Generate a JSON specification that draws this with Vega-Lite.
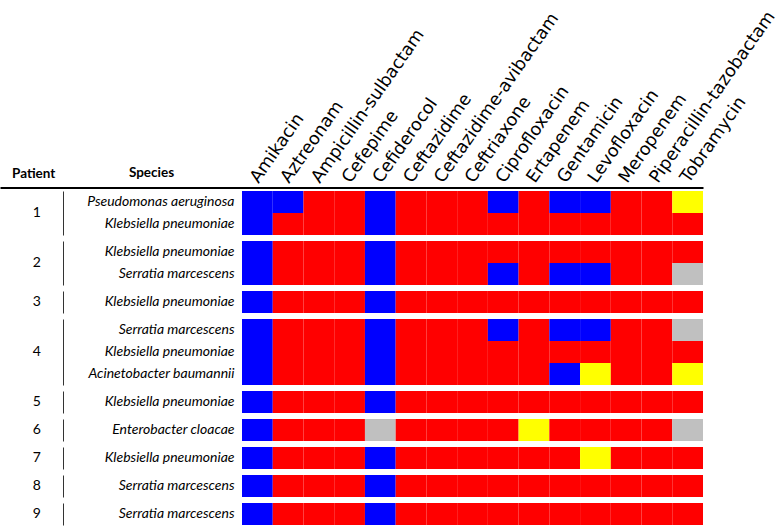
{
  "$schema": "https://vega.github.io/schema/vega-lite/v6.json",
  "padding": {"left": 0, "top": 7, "right": 0, "bottom": 4},
  "background": "white",
  "title": {
    "text": "Patient",
    "anchor": "start",
    "frame": "bounds",
    "orient": "top",
    "align": "left",
    "baseline": "middle",
    "offset": 0,
    "dx": 12,
    "dy": 180,
    "font": "Lato",
    "fontSize": 13.5,
    "fontWeight": "bold",
    "color": "black"
  },
  "data": {"values": [
    {"patient":1,"species":"Pseudomonas aeruginosa","drug":"Amikacin","result":"S"},
    {"patient":1,"species":"Pseudomonas aeruginosa","drug":"Aztreonam","result":"S"},
    {"patient":1,"species":"Pseudomonas aeruginosa","drug":"Ampicillin-sulbactam","result":"R"},
    {"patient":1,"species":"Pseudomonas aeruginosa","drug":"Cefepime","result":"R"},
    {"patient":1,"species":"Pseudomonas aeruginosa","drug":"Cefiderocol","result":"S"},
    {"patient":1,"species":"Pseudomonas aeruginosa","drug":"Ceftazidime","result":"R"},
    {"patient":1,"species":"Pseudomonas aeruginosa","drug":"Ceftazidime-avibactam","result":"R"},
    {"patient":1,"species":"Pseudomonas aeruginosa","drug":"Ceftriaxone","result":"R"},
    {"patient":1,"species":"Pseudomonas aeruginosa","drug":"Ciprofloxacin","result":"S"},
    {"patient":1,"species":"Pseudomonas aeruginosa","drug":"Ertapenem","result":"R"},
    {"patient":1,"species":"Pseudomonas aeruginosa","drug":"Gentamicin","result":"S"},
    {"patient":1,"species":"Pseudomonas aeruginosa","drug":"Levofloxacin","result":"S"},
    {"patient":1,"species":"Pseudomonas aeruginosa","drug":"Meropenem","result":"R"},
    {"patient":1,"species":"Pseudomonas aeruginosa","drug":"Piperacillin-tazobactam","result":"R"},
    {"patient":1,"species":"Pseudomonas aeruginosa","drug":"Tobramycin","result":"I"},
    {"patient":1,"species":"Klebsiella pneumoniae","drug":"Amikacin","result":"S"},
    {"patient":1,"species":"Klebsiella pneumoniae","drug":"Aztreonam","result":"R"},
    {"patient":1,"species":"Klebsiella pneumoniae","drug":"Ampicillin-sulbactam","result":"R"},
    {"patient":1,"species":"Klebsiella pneumoniae","drug":"Cefepime","result":"R"},
    {"patient":1,"species":"Klebsiella pneumoniae","drug":"Cefiderocol","result":"S"},
    {"patient":1,"species":"Klebsiella pneumoniae","drug":"Ceftazidime","result":"R"},
    {"patient":1,"species":"Klebsiella pneumoniae","drug":"Ceftazidime-avibactam","result":"R"},
    {"patient":1,"species":"Klebsiella pneumoniae","drug":"Ceftriaxone","result":"R"},
    {"patient":1,"species":"Klebsiella pneumoniae","drug":"Ciprofloxacin","result":"R"},
    {"patient":1,"species":"Klebsiella pneumoniae","drug":"Ertapenem","result":"R"},
    {"patient":1,"species":"Klebsiella pneumoniae","drug":"Gentamicin","result":"R"},
    {"patient":1,"species":"Klebsiella pneumoniae","drug":"Levofloxacin","result":"R"},
    {"patient":1,"species":"Klebsiella pneumoniae","drug":"Meropenem","result":"R"},
    {"patient":1,"species":"Klebsiella pneumoniae","drug":"Piperacillin-tazobactam","result":"R"},
    {"patient":1,"species":"Klebsiella pneumoniae","drug":"Tobramycin","result":"R"},
    {"patient":2,"species":"Klebsiella pneumoniae","drug":"Amikacin","result":"S"},
    {"patient":2,"species":"Klebsiella pneumoniae","drug":"Aztreonam","result":"R"},
    {"patient":2,"species":"Klebsiella pneumoniae","drug":"Ampicillin-sulbactam","result":"R"},
    {"patient":2,"species":"Klebsiella pneumoniae","drug":"Cefepime","result":"R"},
    {"patient":2,"species":"Klebsiella pneumoniae","drug":"Cefiderocol","result":"S"},
    {"patient":2,"species":"Klebsiella pneumoniae","drug":"Ceftazidime","result":"R"},
    {"patient":2,"species":"Klebsiella pneumoniae","drug":"Ceftazidime-avibactam","result":"R"},
    {"patient":2,"species":"Klebsiella pneumoniae","drug":"Ceftriaxone","result":"R"},
    {"patient":2,"species":"Klebsiella pneumoniae","drug":"Ciprofloxacin","result":"R"},
    {"patient":2,"species":"Klebsiella pneumoniae","drug":"Ertapenem","result":"R"},
    {"patient":2,"species":"Klebsiella pneumoniae","drug":"Gentamicin","result":"R"},
    {"patient":2,"species":"Klebsiella pneumoniae","drug":"Levofloxacin","result":"R"},
    {"patient":2,"species":"Klebsiella pneumoniae","drug":"Meropenem","result":"R"},
    {"patient":2,"species":"Klebsiella pneumoniae","drug":"Piperacillin-tazobactam","result":"R"},
    {"patient":2,"species":"Klebsiella pneumoniae","drug":"Tobramycin","result":"R"},
    {"patient":2,"species":"Serratia marcescens","drug":"Amikacin","result":"S"},
    {"patient":2,"species":"Serratia marcescens","drug":"Aztreonam","result":"R"},
    {"patient":2,"species":"Serratia marcescens","drug":"Ampicillin-sulbactam","result":"R"},
    {"patient":2,"species":"Serratia marcescens","drug":"Cefepime","result":"R"},
    {"patient":2,"species":"Serratia marcescens","drug":"Cefiderocol","result":"S"},
    {"patient":2,"species":"Serratia marcescens","drug":"Ceftazidime","result":"R"},
    {"patient":2,"species":"Serratia marcescens","drug":"Ceftazidime-avibactam","result":"R"},
    {"patient":2,"species":"Serratia marcescens","drug":"Ceftriaxone","result":"R"},
    {"patient":2,"species":"Serratia marcescens","drug":"Ciprofloxacin","result":"S"},
    {"patient":2,"species":"Serratia marcescens","drug":"Ertapenem","result":"R"},
    {"patient":2,"species":"Serratia marcescens","drug":"Gentamicin","result":"S"},
    {"patient":2,"species":"Serratia marcescens","drug":"Levofloxacin","result":"S"},
    {"patient":2,"species":"Serratia marcescens","drug":"Meropenem","result":"R"},
    {"patient":2,"species":"Serratia marcescens","drug":"Piperacillin-tazobactam","result":"R"},
    {"patient":2,"species":"Serratia marcescens","drug":"Tobramycin","result":"NT"},
    {"patient":3,"species":"Klebsiella pneumoniae","drug":"Amikacin","result":"S"},
    {"patient":3,"species":"Klebsiella pneumoniae","drug":"Aztreonam","result":"R"},
    {"patient":3,"species":"Klebsiella pneumoniae","drug":"Ampicillin-sulbactam","result":"R"},
    {"patient":3,"species":"Klebsiella pneumoniae","drug":"Cefepime","result":"R"},
    {"patient":3,"species":"Klebsiella pneumoniae","drug":"Cefiderocol","result":"S"},
    {"patient":3,"species":"Klebsiella pneumoniae","drug":"Ceftazidime","result":"R"},
    {"patient":3,"species":"Klebsiella pneumoniae","drug":"Ceftazidime-avibactam","result":"R"},
    {"patient":3,"species":"Klebsiella pneumoniae","drug":"Ceftriaxone","result":"R"},
    {"patient":3,"species":"Klebsiella pneumoniae","drug":"Ciprofloxacin","result":"R"},
    {"patient":3,"species":"Klebsiella pneumoniae","drug":"Ertapenem","result":"R"},
    {"patient":3,"species":"Klebsiella pneumoniae","drug":"Gentamicin","result":"R"},
    {"patient":3,"species":"Klebsiella pneumoniae","drug":"Levofloxacin","result":"R"},
    {"patient":3,"species":"Klebsiella pneumoniae","drug":"Meropenem","result":"R"},
    {"patient":3,"species":"Klebsiella pneumoniae","drug":"Piperacillin-tazobactam","result":"R"},
    {"patient":3,"species":"Klebsiella pneumoniae","drug":"Tobramycin","result":"R"},
    {"patient":4,"species":"Serratia marcescens","drug":"Amikacin","result":"S"},
    {"patient":4,"species":"Serratia marcescens","drug":"Aztreonam","result":"R"},
    {"patient":4,"species":"Serratia marcescens","drug":"Ampicillin-sulbactam","result":"R"},
    {"patient":4,"species":"Serratia marcescens","drug":"Cefepime","result":"R"},
    {"patient":4,"species":"Serratia marcescens","drug":"Cefiderocol","result":"S"},
    {"patient":4,"species":"Serratia marcescens","drug":"Ceftazidime","result":"R"},
    {"patient":4,"species":"Serratia marcescens","drug":"Ceftazidime-avibactam","result":"R"},
    {"patient":4,"species":"Serratia marcescens","drug":"Ceftriaxone","result":"R"},
    {"patient":4,"species":"Serratia marcescens","drug":"Ciprofloxacin","result":"S"},
    {"patient":4,"species":"Serratia marcescens","drug":"Ertapenem","result":"R"},
    {"patient":4,"species":"Serratia marcescens","drug":"Gentamicin","result":"S"},
    {"patient":4,"species":"Serratia marcescens","drug":"Levofloxacin","result":"S"},
    {"patient":4,"species":"Serratia marcescens","drug":"Meropenem","result":"R"},
    {"patient":4,"species":"Serratia marcescens","drug":"Piperacillin-tazobactam","result":"R"},
    {"patient":4,"species":"Serratia marcescens","drug":"Tobramycin","result":"NT"},
    {"patient":4,"species":"Klebsiella pneumoniae","drug":"Amikacin","result":"S"},
    {"patient":4,"species":"Klebsiella pneumoniae","drug":"Aztreonam","result":"R"},
    {"patient":4,"species":"Klebsiella pneumoniae","drug":"Ampicillin-sulbactam","result":"R"},
    {"patient":4,"species":"Klebsiella pneumoniae","drug":"Cefepime","result":"R"},
    {"patient":4,"species":"Klebsiella pneumoniae","drug":"Cefiderocol","result":"S"},
    {"patient":4,"species":"Klebsiella pneumoniae","drug":"Ceftazidime","result":"R"},
    {"patient":4,"species":"Klebsiella pneumoniae","drug":"Ceftazidime-avibactam","result":"R"},
    {"patient":4,"species":"Klebsiella pneumoniae","drug":"Ceftriaxone","result":"R"},
    {"patient":4,"species":"Klebsiella pneumoniae","drug":"Ciprofloxacin","result":"R"},
    {"patient":4,"species":"Klebsiella pneumoniae","drug":"Ertapenem","result":"R"},
    {"patient":4,"species":"Klebsiella pneumoniae","drug":"Gentamicin","result":"R"},
    {"patient":4,"species":"Klebsiella pneumoniae","drug":"Levofloxacin","result":"R"},
    {"patient":4,"species":"Klebsiella pneumoniae","drug":"Meropenem","result":"R"},
    {"patient":4,"species":"Klebsiella pneumoniae","drug":"Piperacillin-tazobactam","result":"R"},
    {"patient":4,"species":"Klebsiella pneumoniae","drug":"Tobramycin","result":"R"},
    {"patient":4,"species":"Acinetobacter baumannii","drug":"Amikacin","result":"S"},
    {"patient":4,"species":"Acinetobacter baumannii","drug":"Aztreonam","result":"R"},
    {"patient":4,"species":"Acinetobacter baumannii","drug":"Ampicillin-sulbactam","result":"R"},
    {"patient":4,"species":"Acinetobacter baumannii","drug":"Cefepime","result":"R"},
    {"patient":4,"species":"Acinetobacter baumannii","drug":"Cefiderocol","result":"S"},
    {"patient":4,"species":"Acinetobacter baumannii","drug":"Ceftazidime","result":"R"},
    {"patient":4,"species":"Acinetobacter baumannii","drug":"Ceftazidime-avibactam","result":"R"},
    {"patient":4,"species":"Acinetobacter baumannii","drug":"Ceftriaxone","result":"R"},
    {"patient":4,"species":"Acinetobacter baumannii","drug":"Ciprofloxacin","result":"R"},
    {"patient":4,"species":"Acinetobacter baumannii","drug":"Ertapenem","result":"R"},
    {"patient":4,"species":"Acinetobacter baumannii","drug":"Gentamicin","result":"S"},
    {"patient":4,"species":"Acinetobacter baumannii","drug":"Levofloxacin","result":"I"},
    {"patient":4,"species":"Acinetobacter baumannii","drug":"Meropenem","result":"R"},
    {"patient":4,"species":"Acinetobacter baumannii","drug":"Piperacillin-tazobactam","result":"R"},
    {"patient":4,"species":"Acinetobacter baumannii","drug":"Tobramycin","result":"I"},
    {"patient":5,"species":"Klebsiella pneumoniae","drug":"Amikacin","result":"S"},
    {"patient":5,"species":"Klebsiella pneumoniae","drug":"Aztreonam","result":"R"},
    {"patient":5,"species":"Klebsiella pneumoniae","drug":"Ampicillin-sulbactam","result":"R"},
    {"patient":5,"species":"Klebsiella pneumoniae","drug":"Cefepime","result":"R"},
    {"patient":5,"species":"Klebsiella pneumoniae","drug":"Cefiderocol","result":"S"},
    {"patient":5,"species":"Klebsiella pneumoniae","drug":"Ceftazidime","result":"R"},
    {"patient":5,"species":"Klebsiella pneumoniae","drug":"Ceftazidime-avibactam","result":"R"},
    {"patient":5,"species":"Klebsiella pneumoniae","drug":"Ceftriaxone","result":"R"},
    {"patient":5,"species":"Klebsiella pneumoniae","drug":"Ciprofloxacin","result":"R"},
    {"patient":5,"species":"Klebsiella pneumoniae","drug":"Ertapenem","result":"R"},
    {"patient":5,"species":"Klebsiella pneumoniae","drug":"Gentamicin","result":"R"},
    {"patient":5,"species":"Klebsiella pneumoniae","drug":"Levofloxacin","result":"R"},
    {"patient":5,"species":"Klebsiella pneumoniae","drug":"Meropenem","result":"R"},
    {"patient":5,"species":"Klebsiella pneumoniae","drug":"Piperacillin-tazobactam","result":"R"},
    {"patient":5,"species":"Klebsiella pneumoniae","drug":"Tobramycin","result":"R"},
    {"patient":6,"species":"Enterobacter cloacae","drug":"Amikacin","result":"S"},
    {"patient":6,"species":"Enterobacter cloacae","drug":"Aztreonam","result":"R"},
    {"patient":6,"species":"Enterobacter cloacae","drug":"Ampicillin-sulbactam","result":"R"},
    {"patient":6,"species":"Enterobacter cloacae","drug":"Cefepime","result":"R"},
    {"patient":6,"species":"Enterobacter cloacae","drug":"Cefiderocol","result":"NT"},
    {"patient":6,"species":"Enterobacter cloacae","drug":"Ceftazidime","result":"R"},
    {"patient":6,"species":"Enterobacter cloacae","drug":"Ceftazidime-avibactam","result":"R"},
    {"patient":6,"species":"Enterobacter cloacae","drug":"Ceftriaxone","result":"R"},
    {"patient":6,"species":"Enterobacter cloacae","drug":"Ciprofloxacin","result":"R"},
    {"patient":6,"species":"Enterobacter cloacae","drug":"Ertapenem","result":"I"},
    {"patient":6,"species":"Enterobacter cloacae","drug":"Gentamicin","result":"R"},
    {"patient":6,"species":"Enterobacter cloacae","drug":"Levofloxacin","result":"R"},
    {"patient":6,"species":"Enterobacter cloacae","drug":"Meropenem","result":"R"},
    {"patient":6,"species":"Enterobacter cloacae","drug":"Piperacillin-tazobactam","result":"R"},
    {"patient":6,"species":"Enterobacter cloacae","drug":"Tobramycin","result":"NT"},
    {"patient":7,"species":"Klebsiella pneumoniae","drug":"Amikacin","result":"S"},
    {"patient":7,"species":"Klebsiella pneumoniae","drug":"Aztreonam","result":"R"},
    {"patient":7,"species":"Klebsiella pneumoniae","drug":"Ampicillin-sulbactam","result":"R"},
    {"patient":7,"species":"Klebsiella pneumoniae","drug":"Cefepime","result":"R"},
    {"patient":7,"species":"Klebsiella pneumoniae","drug":"Cefiderocol","result":"S"},
    {"patient":7,"species":"Klebsiella pneumoniae","drug":"Ceftazidime","result":"R"},
    {"patient":7,"species":"Klebsiella pneumoniae","drug":"Ceftazidime-avibactam","result":"R"},
    {"patient":7,"species":"Klebsiella pneumoniae","drug":"Ceftriaxone","result":"R"},
    {"patient":7,"species":"Klebsiella pneumoniae","drug":"Ciprofloxacin","result":"R"},
    {"patient":7,"species":"Klebsiella pneumoniae","drug":"Ertapenem","result":"R"},
    {"patient":7,"species":"Klebsiella pneumoniae","drug":"Gentamicin","result":"R"},
    {"patient":7,"species":"Klebsiella pneumoniae","drug":"Levofloxacin","result":"I"},
    {"patient":7,"species":"Klebsiella pneumoniae","drug":"Meropenem","result":"R"},
    {"patient":7,"species":"Klebsiella pneumoniae","drug":"Piperacillin-tazobactam","result":"R"},
    {"patient":7,"species":"Klebsiella pneumoniae","drug":"Tobramycin","result":"R"},
    {"patient":8,"species":"Serratia marcescens","drug":"Amikacin","result":"S"},
    {"patient":8,"species":"Serratia marcescens","drug":"Aztreonam","result":"R"},
    {"patient":8,"species":"Serratia marcescens","drug":"Ampicillin-sulbactam","result":"R"},
    {"patient":8,"species":"Serratia marcescens","drug":"Cefepime","result":"R"},
    {"patient":8,"species":"Serratia marcescens","drug":"Cefiderocol","result":"S"},
    {"patient":8,"species":"Serratia marcescens","drug":"Ceftazidime","result":"R"},
    {"patient":8,"species":"Serratia marcescens","drug":"Ceftazidime-avibactam","result":"R"},
    {"patient":8,"species":"Serratia marcescens","drug":"Ceftriaxone","result":"R"},
    {"patient":8,"species":"Serratia marcescens","drug":"Ciprofloxacin","result":"R"},
    {"patient":8,"species":"Serratia marcescens","drug":"Ertapenem","result":"R"},
    {"patient":8,"species":"Serratia marcescens","drug":"Gentamicin","result":"R"},
    {"patient":8,"species":"Serratia marcescens","drug":"Levofloxacin","result":"R"},
    {"patient":8,"species":"Serratia marcescens","drug":"Meropenem","result":"R"},
    {"patient":8,"species":"Serratia marcescens","drug":"Piperacillin-tazobactam","result":"R"},
    {"patient":8,"species":"Serratia marcescens","drug":"Tobramycin","result":"R"},
    {"patient":9,"species":"Serratia marcescens","drug":"Amikacin","result":"S"},
    {"patient":9,"species":"Serratia marcescens","drug":"Aztreonam","result":"R"},
    {"patient":9,"species":"Serratia marcescens","drug":"Ampicillin-sulbactam","result":"R"},
    {"patient":9,"species":"Serratia marcescens","drug":"Cefepime","result":"R"},
    {"patient":9,"species":"Serratia marcescens","drug":"Cefiderocol","result":"S"},
    {"patient":9,"species":"Serratia marcescens","drug":"Ceftazidime","result":"R"},
    {"patient":9,"species":"Serratia marcescens","drug":"Ceftazidime-avibactam","result":"R"},
    {"patient":9,"species":"Serratia marcescens","drug":"Ceftriaxone","result":"R"},
    {"patient":9,"species":"Serratia marcescens","drug":"Ciprofloxacin","result":"R"},
    {"patient":9,"species":"Serratia marcescens","drug":"Ertapenem","result":"R"},
    {"patient":9,"species":"Serratia marcescens","drug":"Gentamicin","result":"R"},
    {"patient":9,"species":"Serratia marcescens","drug":"Levofloxacin","result":"R"},
    {"patient":9,"species":"Serratia marcescens","drug":"Meropenem","result":"R"},
    {"patient":9,"species":"Serratia marcescens","drug":"Piperacillin-tazobactam","result":"R"},
    {"patient":9,"species":"Serratia marcescens","drug":"Tobramycin","result":"R"}
  ]},
  "facet": {
    "row": {
      "field": "patient",
      "type": "ordinal",
      "title": null,
      "header": {
        "labelAngle": 0,
        "labelOrient": "left",
        "labelAlign": "center",
        "labelPadding": -45,
        "labelFont": "Lato",
        "labelFontSize": 14,
        "labelColor": "black"
      }
    }
  },
  "spacing": {"row": 6},
  "resolve": {"scale": {"y": "independent"}},
  "spec": {
    "width": 703,
    "height": {"step": 22},
    "mark": {"type": "rect"},
    "encoding": {
      "x": {
        "field": "drug",
        "type": "nominal",
        "scale": {
          "domain": ["_1","_2","_3","_4","_5","_6","_7","Amikacin","Aztreonam","Ampicillin-sulbactam","Cefepime","Cefiderocol","Ceftazidime","Ceftazidime-avibactam","Ceftriaxone","Ciprofloxacin","Ertapenem","Gentamicin","Levofloxacin","Meropenem","Piperacillin-tazobactam","Tobramycin"],
          "paddingInner": 0,
          "paddingOuter": 0.4375,
          "align": 1
        },
        "axis": {
          "orient": "top",
          "title": "Species",
          "titleX": 151,
          "titleY": -15,
          "titleAngle": 0,
          "titleAlign": "center",
          "titleBaseline": "middle",
          "titleFont": "Lato",
          "titleFontWeight": "bold",
          "titleFontSize": 13.5,
          "titleColor": "black",
          "labelExpr": "indexof(datum.label, '_') == 0 ? '' : datum.label",
          "labelAngle": -55,
          "labelAlign": "left",
          "labelBaseline": "alphabetic",
          "labelOffset": 1,
          "labelPadding": 4,
          "labelFont": "DejaVu Sans",
          "labelFontSize": 17.5,
          "labelColor": "black",
          "labelLimit": 400,
          "labelOverlap": false,
          "ticks": false,
          "tickSize": 0,
          "domain": true,
          "domainColor": "black",
          "domainWidth": 2,
          "offset": 3.5,
          "grid": false
        }
      },
      "y": {
        "field": "species",
        "type": "nominal",
        "sort": null,
        "scale": {"paddingInner": 0, "paddingOuter": 0},
        "axis": {
          "orient": "left",
          "title": null,
          "offset": -63,
          "ticks": false,
          "tickSize": 0,
          "domain": true,
          "domainColor": "#333333",
          "domainWidth": 1,
          "labelPadding": -171,
          "labelAlign": "right",
          "labelFont": "Lato",
          "labelFontStyle": "italic",
          "labelFontSize": 14,
          "labelColor": "black",
          "labelLimit": 300,
          "grid": false
        }
      },
      "color": {
        "field": "result",
        "type": "nominal",
        "scale": {"domain": ["S","R","I","NT"], "range": ["#0000FF","#FF0000","#FFFF00","#C0C0C0"]},
        "legend": null
      }
    }
  },
  "config": {"view": {"stroke": null}, "font": "Lato"}
}
